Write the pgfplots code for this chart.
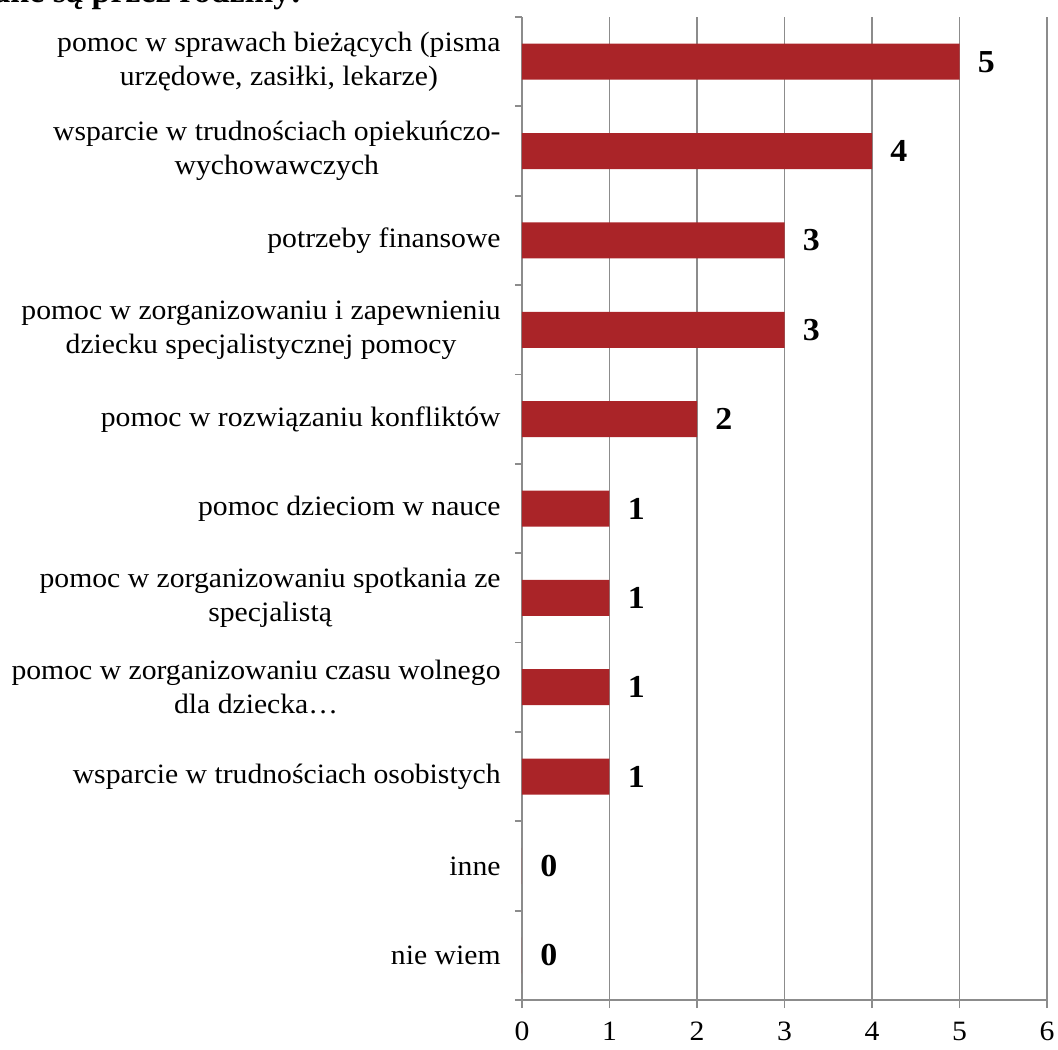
\documentclass[border=0pt]{standalone}
\usepackage{pgfplots}
\pgfplotsset{compat=1.18}
\usepackage{fontspec}
\setmainfont{Liberation Serif}[FakeStretch=1.06]
\newfontfamily\titlefont{Liberation Serif}
\definecolor{barred}{RGB}{170,36,40}
\definecolor{gridgray}{RGB}{140,140,140}
\begin{document}
\begin{tikzpicture}
\begin{axis}[
  at={(0,0)}, anchor=south west,
  scale only axis,
  width=262.5pt, height=491.5pt,
  xmin=0, xmax=6,
  ymin=-0.5, ymax=10.5,
  y dir=reverse,
  axis lines*=left,
  axis line style={gridgray, line width=0.9pt},
  xtick={0,...,6},
  xmajorgrids,
  major grid style={gridgray, line width=0.9pt},
  major x tick style={gridgray, line width=0.9pt},
  tick align=outside,
  major tick length=4pt,
  xticklabel style={font=\fontsize{14}{17}\selectfont, inner sep=0pt, anchor=base, yshift=-16pt},
  xticklabel shift=0pt,
  ytick={0,...,10},
  major y tick style={draw=none},
  minor ytick={-0.5,0.5,...,10.5},
  minor y tick style={gridgray, line width=0.9pt},
  minor tick length=3.5pt,
  yticklabels={
    {pomoc w sprawach bieżących (pisma\\urzędowe, zasiłki, lekarze)},
    {wsparcie w trudnościach opiekuńczo-\\wychowawczych},
    {potrzeby finansowe},
    {pomoc w zorganizowaniu i zapewnieniu\\dziecku specjalistycznej pomocy},
    {pomoc w rozwiązaniu konfliktów},
    {pomoc dzieciom w nauce},
    {pomoc w zorganizowaniu spotkania ze\\specjalistą},
    {pomoc w zorganizowaniu czasu wolnego\\dla dziecka…},
    {wsparcie w trudnościach osobistych},
    {inne},
    {nie wiem}},
  yticklabel style={font=\fontsize{14}{17}\selectfont, align=center, anchor=east, inner sep=0pt, xshift=-6.5pt},
  /pgf/number format/assume math mode=true,
  xbar, bar width=18pt,
  nodes near coords,
  nodes near coords style={font=\fontsize{16}{18}\selectfont\bfseries, anchor=west, inner sep=0pt, xshift=9pt},
]
\addplot[fill=barred, draw=none] coordinates {
  (5,0) (4,1) (3,2) (3,3) (2,4) (1,5) (1,6) (1,7) (1,8) (0,9) (0,10)
};
\end{axis}
\node[anchor=base east, font=\titlefont\fontsize{17}{20}\selectfont\bfseries, inner sep=0pt] at (-110pt,498.5pt) {zgłaszane są przez rodziny:};
\pgfresetboundingbox
\useasboundingbox (-261pt,-24.5pt) rectangle (268pt,500pt);
\end{tikzpicture}
\end{document}
